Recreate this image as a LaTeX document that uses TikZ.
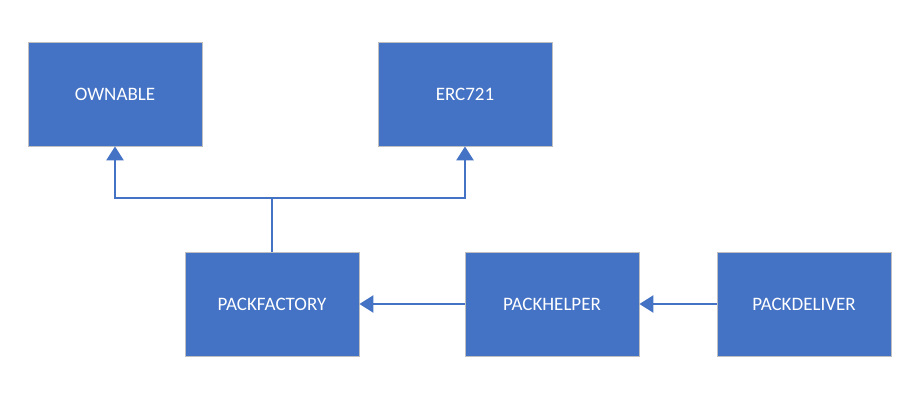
\documentclass[tikz,border=0pt]{standalone}
\usepackage{fontspec}
\setmainfont{Carlito}
\usetikzlibrary{arrows.meta}
\definecolor{boxblue}{HTML}{4472C4}
\definecolor{edgegray}{HTML}{BFBFBF}
\tikzset{
  box/.style={draw=edgegray, line width=0.8pt, fill=boxblue, minimum width=174pt, minimum height=104pt, inner sep=0pt, text=white, font=\fontsize{19}{22}\selectfont},
  conn/.style={draw=boxblue, line width=2.5pt, -{Triangle[width=17pt,length=14pt]}},
  seg/.style={draw=boxblue, line width=2.5pt}
}
\begin{document}
\begin{tikzpicture}[x=1pt,y=-1pt]
\useasboundingbox (0,0) rectangle (920,403);
\node[box] (own) at (115,94) {OWNABLE};
\node[box] (erc) at (465,94) {ERC721};
\node[box] (fac) at (272,304) {PACKFACTORY};
\node[box] (help) at (552,304) {PACKHELPER};
\node[box] (del) at (804,304) {PACKDELIVER};
\coordinate (j) at (272,198);
\draw[seg] (fac.north) -- (j);
\draw[conn] (j) -| (own.south);
\draw[conn] (j) -| (erc.south);
\draw[conn] (help.west) -- (fac.east);
\draw[conn] (del.west) -- (help.east);
\end{tikzpicture}
\end{document}
